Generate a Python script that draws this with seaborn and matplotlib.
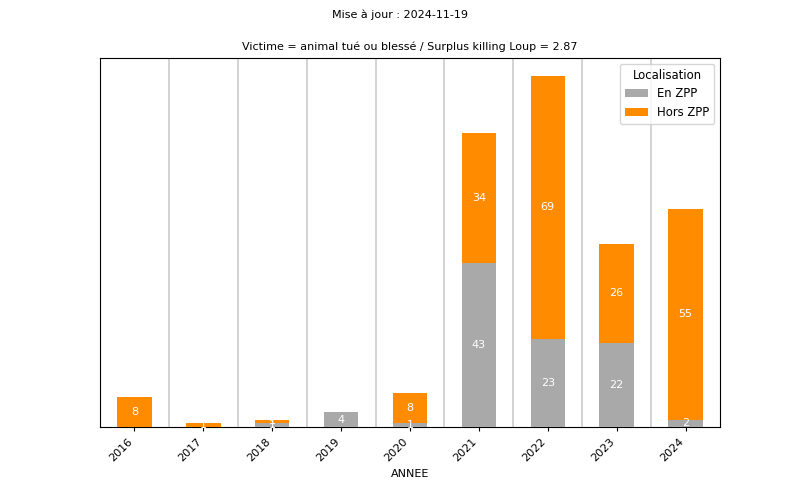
import matplotlib
matplotlib.use("Agg")
import matplotlib.pyplot as plt
import seaborn as sns
import pandas as pd
import numpy as np

years = ["2016", "2017", "2018", "2019", "2020", "2021", "2022", "2023", "2024"]
en_zpp = [0, 0, 1, 4, 1, 43, 23, 22, 2]
hors_zpp = [8, 1, 1, 0, 8, 34, 69, 26, 55]

GRAY = "#a9a9a9"
ORANGE = "#ff8c00"

plt.rcParams["font.family"] = ["DejaVu Sans"]
plt.rcParams["font.size"] = 8

df = pd.DataFrame({"ANNEE": years, "en": en_zpp, "hors": hors_zpp})
df["total"] = df["en"] + df["hors"]

fig = plt.figure(figsize=(8, 4.8), dpi=100)
ax = fig.add_axes([0.125, 0.11, 0.775, 0.769])

sns.barplot(data=df, x="ANNEE", y="total", color=ORANGE, width=0.5,
            saturation=1, ax=ax, label="Hors ZPP", zorder=3, linewidth=0)
sns.barplot(data=df, x="ANNEE", y="en", color=GRAY, width=0.5,
            saturation=1, ax=ax, label="En ZPP", zorder=3, linewidth=0)

for i, (e, h) in enumerate(zip(en_zpp, hors_zpp)):
    if e > 0:
        ax.text(i, e / 2, str(e), color="white", ha="center", va="center", fontsize=8, zorder=4)
    if h > 0:
        ax.text(i, e + h / 2, str(h), color="white", ha="center", va="center", fontsize=8, zorder=4)

n = len(years)
ax.set_xlim(-0.5, n - 0.5)
ax.set_ylim(0, max(df["total"]) * 1.05)
for k in range(n - 1):
    ax.axvline(k + 0.5, color="#cccccc", lw=1.2, zorder=1)

ax.set_yticks([])
ax.set_ylabel("")
ax.set_xlabel("ANNEE", fontsize=8)
ax.tick_params(axis="x", bottom=True, length=3, labelsize=8, width=0.8)
plt.setp(ax.get_xticklabels(), rotation=45, ha="right", rotation_mode="default")
for s in ax.spines.values():
    s.set_visible(True)
    s.set_color("black")
    s.set_linewidth(0.8)

handles, labels = ax.get_legend_handles_labels()
order = [labels.index("En ZPP"), labels.index("Hors ZPP")]
ax.legend([handles[i] for i in order], [labels[i] for i in order],
          title="Localisation", loc="upper right", fontsize=8.4, title_fontsize=8.4)

ax.set_title("Victime = animal tué ou blessé / Surplus killing Loup = 2.87", fontsize=8)
fig.suptitle("Mise à jour : 2024-11-19", fontsize=8, y=0.98)

fig.savefig("out.png", dpi=100)
